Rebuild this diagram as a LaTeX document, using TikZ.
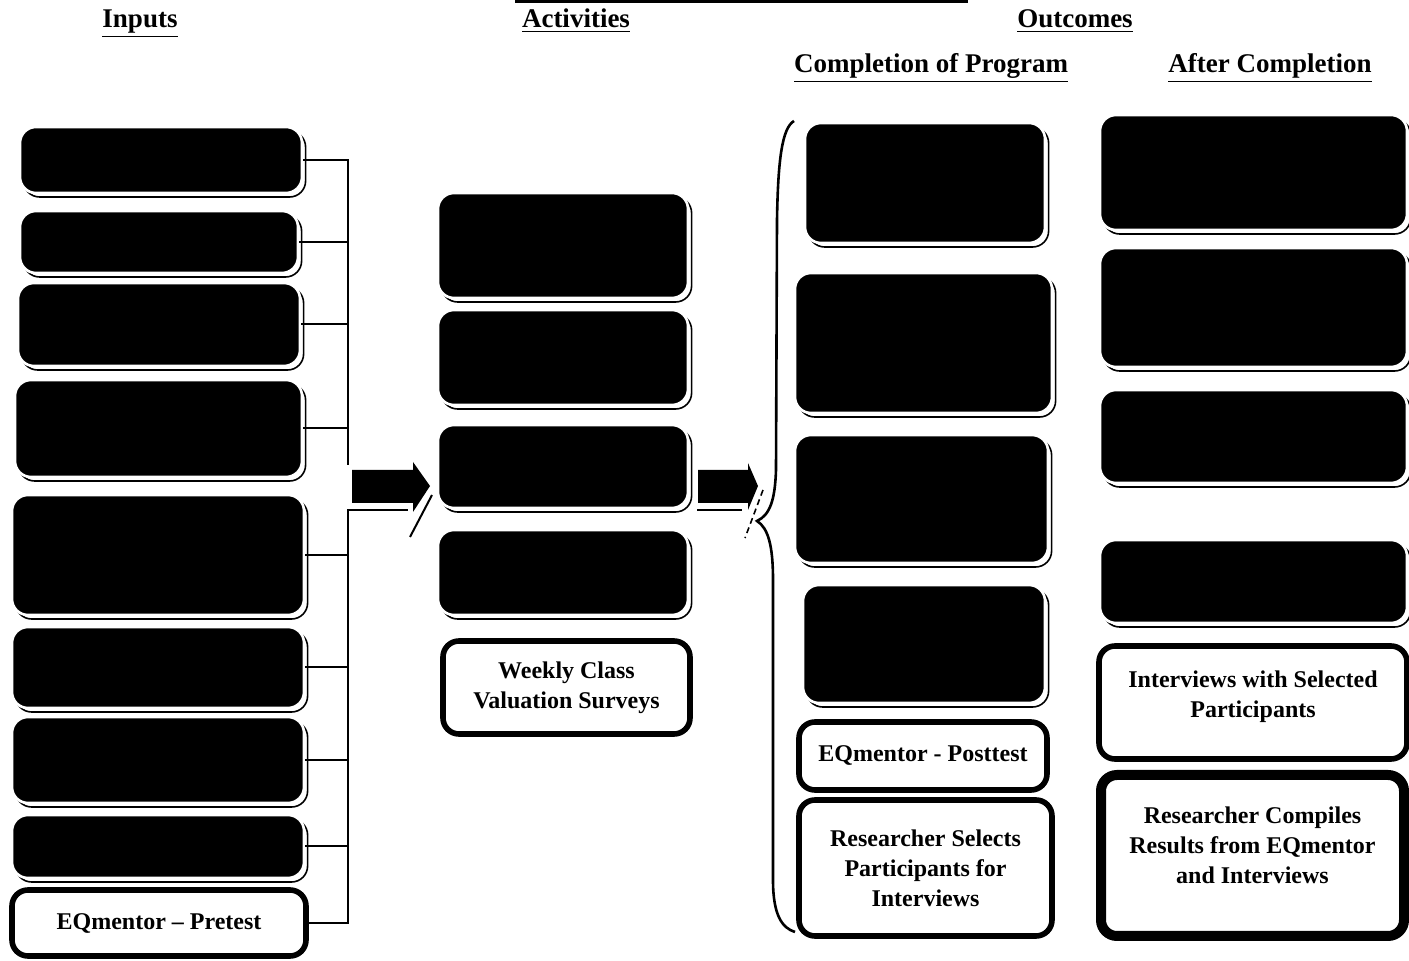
\documentclass[tikz,border=0pt]{standalone}
\usepackage{fontspec}
\setmainfont{Liberation Serif}
\usetikzlibrary{shadows}
\newcommand\bx[7]{\node[#6, minimum width={(#4-#2)*0.5pt}, minimum height={(#5-#3)*0.5pt}] (#1) at ({(#2+#4)/2},{(#3+#5)/2}) {#7};}
\tikzset{
  blackbox/.style={inner sep=0pt, rounded corners=8pt, fill=black, draw=white, line width=1.3pt,
    general shadow={fill=white, draw=black, line width=0.8pt, shadow xshift=1.8pt, shadow yshift=-2pt}},
  whitebox/.style={inner sep=0pt, rounded corners=8pt, fill=white, draw=black, line width=2.8pt,
    align=center, font=\fontsize{12}{15}\selectfont\bfseries},
  heavybox/.style={whitebox, line width=5pt},
  head/.style={font=\fontsize{13.5}{16}\selectfont\bfseries, inner sep=0pt, anchor=base},
  link/.style={draw=black, line width=1pt},
  blockarrow/.style={fill=black},
}
\begin{document}
\begin{tikzpicture}[x=0.5pt,y=-0.5pt]
\useasboundingbox (0,0) rectangle (1409,961);
% cut-off title rule
\coordinate (ruleL) at (515,1.5);
\coordinate (ruleR) at (968,1.5);
\draw[line width=1.5pt] (ruleL) -- (ruleR);
% headers
\node[head] (hIn) at (140,28) {\underline{Inputs}};
\node[head] (hAct) at (576,28) {\underline{Activities}};
\node[head] (hOut) at (1075,28) {\underline{Outcomes}};
\node[head] (hComp) at (931,73) {\underline{Completion of Program}};
\node[head] (hAfter) at (1270,73) {\underline{After Completion}};
% inputs
\bx{in1}{20}{127}{302}{193}{blackbox}{}
\bx{in2}{20}{211}{298}{273}{blackbox}{}
\bx{in3}{18}{283}{300}{366}{blackbox}{}
\bx{in4}{15}{380}{302}{477}{blackbox}{}
\bx{in5}{12}{495}{304}{615}{blackbox}{}
\bx{in6}{12}{627}{304}{708}{blackbox}{}
\bx{in7}{12}{717}{304}{803}{blackbox}{}
\bx{in8}{12}{815}{304}{878}{blackbox}{}
\bx{in9}{12}{890}{306}{956}{whitebox}{EQmentor -- Pretest}
% activities
\bx{ac1}{438}{193}{688}{298}{blackbox}{}
\bx{ac2}{438}{310}{688}{405}{blackbox}{}
\bx{ac3}{438}{425}{688}{508}{blackbox}{}
\bx{ac4}{438}{530}{688}{615}{blackbox}{}
\bx{ac5}{443}{641}{690}{734}{whitebox}{Weekly Class\\Valuation Surveys}
% completion of program
\bx{co1}{805}{123}{1045}{243}{blackbox}{}
\bx{co2}{795}{273}{1052}{413}{blackbox}{}
\bx{co3}{795}{435}{1048}{563}{blackbox}{}
\bx{co4}{803}{585}{1045}{703}{blackbox}{}
\bx{co5}{799}{722}{1047}{790}{whitebox}{EQmentor - Posttest}
\bx{co6}{799}{800}{1052}{936}{whitebox}{Researcher Selects\\Participants for\\Interviews}
% after completion
\bx{af1}{1100}{115}{1407}{230}{blackbox}{}
\bx{af2}{1100}{248}{1407}{367}{blackbox}{}
\bx{af3}{1100}{390}{1407}{483}{blackbox}{}
\bx{af4}{1100}{540}{1407}{623}{blackbox}{}
\bx{af5}{1099}{646}{1407}{759}{whitebox}{Interviews with Selected\\Participants\\[-7pt]}
\bx{af6}{1101}{775}{1404}{936}{heavybox}{Researcher Compiles\\Results from EQmentor\\and Interviews\\[-5pt]}
% input bracket
\coordinate (gapTop) at (348,465);
\coordinate (gapBot) at (348,510);
\coordinate (gapEnd) at (408,510);
\draw[link] (in1.east) -| (gapTop);
\draw[link] (in9.east) -| (gapBot) -- (gapEnd);
\foreach \b in {in2,in3,in4,in5,in6,in7,in8}{
  \draw[link] (\b.east) -- (\b.east -| gapTop);
}
% block arrow 1
\fill[blockarrow] (352,470) -- (413,470) -- (413,462) -- (430,486) -- (413,512) -- (413,503) -- (352,503) -- cycle;
\coordinate (s1a) at (432,495);
\coordinate (s1b) at (410,537);
\draw[line width=1pt] (s1a) -- (s1b);
% block arrow 2
\fill[blockarrow] (698,470) -- (748,470) -- (748,463) -- (758,486) -- (748,510) -- (748,503) -- (698,503) -- cycle;
\coordinate (l2a) at (697,510);
\coordinate (l2b) at (742,510);
\draw[line width=1pt] (l2a) -- (l2b);
\coordinate (s2a) at (763,490);
\coordinate (s2b) at (745,538);
\draw[line width=0.8pt, densely dashed] (s2a) -- (s2b);
% brace
\coordinate (brTop) at (794,121);
\coordinate (brTip) at (757,521);
\coordinate (brBot) at (795,932);
\draw[line width=1.3pt] (brTop) .. controls (782,128) and (778,160) .. (777,220)
  -- (776,470) .. controls (775,500) and (770,515) .. (brTip)
  .. controls (768,528) and (773,545) .. (773,580)
  -- (773,880) .. controls (773,915) and (782,928) .. (brBot);
\end{tikzpicture}
\end{document}
